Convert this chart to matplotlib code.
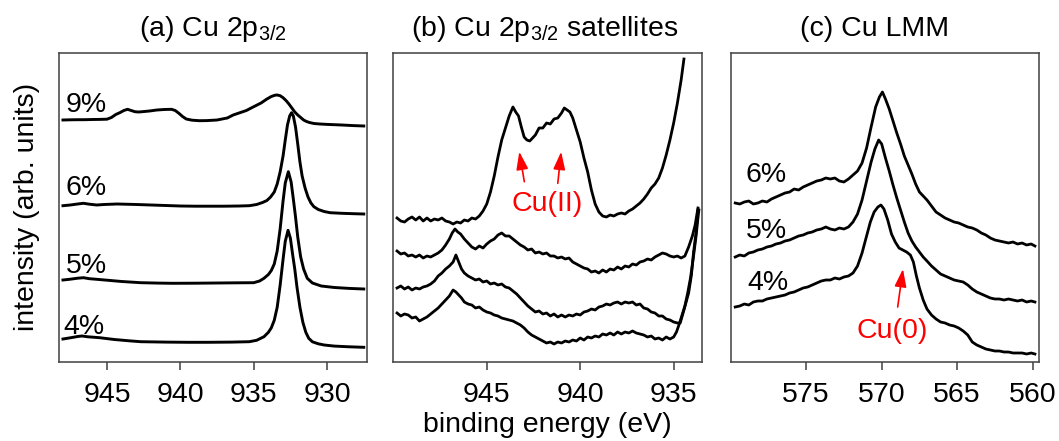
import numpy as np
import matplotlib
matplotlib.use('Agg')
import matplotlib.pyplot as plt

plt.rcParams['font.family'] = 'Liberation Sans'
plt.rcParams['mathtext.fontset'] = 'custom'
plt.rcParams['mathtext.rm'] = 'Liberation Sans'
plt.rcParams['mathtext.it'] = 'Liberation Sans:italic'
plt.rcParams['font.size'] = 20.5
plt.rcParams['axes.titlesize'] = 20.5

# ---------------- (a) Cu 2p3/2 : (binding energy eV, intensity) ----------------
a_9 = np.array([
    (948.0, 6.0), (947.5, 6.2), (947.0, 6.3), (946.5, 6.3), (946.0, 6.5), (945.5, 6.6),
    (945.0, 6.8), (944.7, 8.5), (944.4, 11.5), (944.1, 13.5), (943.85, 15.5), (943.6, 16.7),
    (943.35, 15.5), (943.1, 14.3), (942.85, 14.0), (942.6, 14.3), (942.1, 15.0), (941.6, 16.0),
    (941.1, 16.5), (940.6, 16.7), (940.35, 15.5), (940.1, 12.7), (939.85, 9.5), (939.6, 7.0),
    (939.2, 5.8), (938.7, 5.3), (938.2, 5.4), (937.5, 6.0), (936.8, 8.0), (936.4, 11.0),
    (935.5, 15.5), (935.0, 19.3), (934.5, 23.0), (934.1, 27.0), (933.8, 29.5), (933.55, 30.8),
    (933.4, 31.0), (933.2, 30.3), (933.0, 28.3), (932.8, 25.5), (932.6, 22.0), (932.4, 18.0),
    (932.2, 14.0), (932.0, 11.0), (931.8, 8.5), (931.6, 6.0), (931.4, 4.5), (931.2, 3.5),
    (930.9, 2.5), (930.5, 2.0), (930.0, 1.6), (929.0, 1.0), (928.2, 0.4), (927.5, 0.0)])

a_6 = np.array([
    (948.0, 8.3), (947.5, 9.0), (947.0, 10.0), (946.6, 10.7), (946.2, 9.8), (945.7, 9.0),
    (945.2, 9.5), (944.3, 10.0), (943.0, 9.5), (942.0, 9.0), (941.0, 8.5), (940.0, 8.0),
    (939.0, 7.8), (938.0, 7.8), (937.0, 7.8), (936.0, 8.0), (935.3, 8.3), (934.8, 9.5),
    (934.4, 11.5), (934.1, 13.5), (933.85, 17.0), (933.6, 22.0), (933.4, 30.0), (933.2, 42.0),
    (933.0, 58.0), (932.85, 74.0), (932.7, 89.0), (932.55, 98.0), (932.42, 101.3), (932.3, 98.0),
    (932.15, 87.0), (932.0, 70.0), (931.85, 52.0), (931.7, 38.0), (931.5, 26.0), (931.3, 17.0),
    (931.1, 11.0), (930.9, 7.3), (930.6, 4.5), (930.2, 2.5), (929.8, 1.3), (929.0, 0.7),
    (928.2, 0.3), (927.5, 0.0)])

a_5 = np.array([
    (948.0, 9.0), (947.5, 9.8), (947.0, 10.8), (946.6, 11.3), (946.2, 10.3), (945.7, 9.7),
    (945.0, 8.8), (944.0, 7.5), (942.7, 6.3), (941.5, 5.9), (940.5, 5.7), (939.0, 5.8),
    (937.5, 6.0), (936.0, 6.2), (935.0, 6.3), (934.6, 8.0), (934.3, 10.7), (934.0, 14.5),
    (933.8, 18.5), (933.6, 25.0), (933.4, 38.0), (933.2, 60.0), (933.0, 88.0), (932.85, 106.0),
    (932.64, 117.3), (932.45, 107.0), (932.3, 90.0), (932.15, 72.0), (932.0, 52.0), (931.8, 32.0),
    (931.6, 20.0), (931.35, 10.7), (931.0, 6.0), (930.4, 3.0), (929.5, 1.5), (928.5, 0.6),
    (927.5, 0.0)])

a_4 = np.array([
    (948.0, 8.3), (947.5, 9.5), (947.0, 10.8), (946.7, 11.3), (946.3, 10.5), (945.5, 9.6),
    (944.5, 7.8), (943.5, 6.5), (942.7, 5.6), (941.0, 5.2), (939.5, 5.0), (938.1, 5.0),
    (936.5, 5.2), (935.3, 5.6), (934.8, 7.0), (934.3, 10.6), (934.0, 15.0), (933.8, 19.5),
    (933.6, 27.0), (933.4, 40.0), (933.2, 62.0), (933.0, 88.0), (932.85, 106.0), (932.66, 117.0),
    (932.5, 109.0), (932.35, 93.0), (932.2, 78.0), (932.05, 60.0), (931.85, 40.0), (931.65, 25.0),
    (931.45, 15.0), (931.25, 9.0), (931.0, 5.5), (930.6, 3.5), (930.2, 2.3), (929.5, 1.2),
    (928.5, 0.5), (927.5, 0.0)])

# ---------------- (b) Cu 2p3/2 shake-up satellites ----------------
b_9 = np.array([
    (949.8, 2), (949.6, -1), (949.4, -2), (949.2, 1), (949.0, 3), (948.8, 0), (948.6, 3),
    (948.4, -1), (948.2, 2), (948.0, -1), (947.8, 1), (947.6, 0), (947.4, 2), (947.2, -1),
    (947.0, -2), (946.8, -4), (946.6, -2), (946.4, -3), (946.2, 0), (946.0, -1), (945.8, 2),
    (945.6, 1), (945.4, 4), (945.2, 9), (945.0, 16), (944.8, 28), (944.6, 44), (944.4, 63),
    (944.2, 80), (944.0, 92), (943.8, 104), (943.6, 113), (943.45, 108), (943.3, 104),
    (943.15, 93), (943.0, 83), (942.85, 80), (942.7, 79), (942.55, 82), (942.4, 85),
    (942.2, 92), (942.0, 92), (941.8, 97), (941.6, 96), (941.4, 101), (941.2, 102),
    (941.0, 107), (940.85, 112), (940.7, 110), (940.55, 108), (940.4, 102), (940.2, 90),
    (940.0, 78), (939.8, 62), (939.6, 48), (939.4, 30), (939.2, 16), (939.0, 8), (938.8, 4),
    (938.6, 3), (938.4, 5), (938.2, 4), (938.0, 6), (937.8, 7), (937.6, 6), (937.4, 9),
    (937.2, 11), (937.0, 14), (936.8, 17), (936.6, 21), (936.4, 26), (936.2, 32), (936.0, 36),
    (935.8, 42), (935.6, 52), (935.4, 65), (935.2, 80), (935.0, 97), (934.8, 117),
    (934.6, 140), (934.45, 161)])

b_6 = np.array([
    (949.8, 4), (949.6, 1), (949.4, 2), (949.2, -1), (949.0, 0), (948.8, -2), (948.6, 0),
    (948.4, -3), (948.2, -1), (948.0, -2), (947.8, 0), (947.6, 2), (947.4, 5), (947.2, 10),
    (947.0, 16), (946.85, 22), (946.7, 26), (946.55, 23), (946.4, 21), (946.2, 16), (946.0, 12),
    (945.8, 8), (945.6, 6), (945.4, 9), (945.2, 7), (945.0, 11), (944.8, 14), (944.6, 16),
    (944.4, 20), (944.2, 22), (944.0, 19), (943.8, 19), (943.6, 16), (943.4, 13), (943.2, 10),
    (943.0, 8), (942.8, 5), (942.6, 6), (942.4, 2), (942.2, 3), (942.0, 1), (941.8, 2),
    (941.6, -1), (941.4, -1), (941.2, -3), (941.0, -2), (940.8, -4), (940.6, -3), (940.4, -7),
    (940.2, -9), (940.0, -11), (939.8, -13), (939.6, -14), (939.4, -17), (939.2, -16),
    (939.0, -18), (938.8, -15), (938.6, -17), (938.4, -14), (938.2, -15), (938.0, -12),
    (937.8, -14), (937.6, -11), (937.4, -12), (937.2, -9), (937.0, -10), (936.8, -7),
    (936.6, -6), (936.4, -4), (936.2, -5), (936.0, -2), (935.8, 0), (935.6, 2), (935.4, 1),
    (935.2, -1), (935.0, -2), (934.8, -1), (934.6, -3), (934.4, -1), (934.2, 8), (934.0, 19),
    (933.85, 30), (933.7, 47)])

b_5 = np.array([
    (949.8, 2), (949.6, 4), (949.4, 1), (949.2, 3), (949.0, 0), (948.8, 2), (948.6, 1),
    (948.4, 3), (948.2, 4), (948.0, 6), (947.8, 9), (947.6, 14), (947.4, 17), (947.2, 21),
    (947.0, 24), (946.8, 28), (946.65, 35), (946.5, 28), (946.35, 21), (946.2, 17), (946.0, 14),
    (945.8, 12), (945.6, 10), (945.4, 11), (945.2, 8), (945.0, 9), (944.8, 6), (944.6, 7),
    (944.4, 5), (944.2, 6), (944.0, 3), (943.8, 2), (943.6, -1), (943.4, -4), (943.2, -8),
    (943.0, -12), (942.8, -16), (942.6, -19), (942.4, -22), (942.2, -21), (942.0, -24),
    (941.8, -23), (941.6, -26), (941.4, -24), (941.2, -27), (941.0, -25), (940.8, -27),
    (940.6, -25), (940.4, -26), (940.2, -24), (940.0, -25), (939.8, -22), (939.6, -21),
    (939.4, -19), (939.2, -20), (939.0, -17), (938.8, -16), (938.6, -14), (938.4, -15),
    (938.2, -13), (938.0, -12), (937.8, -14), (937.6, -12), (937.4, -13), (937.2, -12),
    (937.0, -15), (936.8, -14), (936.6, -18), (936.4, -19), (936.2, -22), (936.0, -23),
    (935.8, -26), (935.6, -26), (935.4, -29), (935.2, -30), (935.0, -32), (934.8, -33),
    (934.65, -33), (934.45, -20), (934.2, -3), (934.05, 15), (933.94, 37), (933.8, 58),
    (933.7, 80)])

b_4 = np.array([
    (949.8, 5), (949.6, 2), (949.4, 4), (949.2, 3), (949.0, 0), (948.8, 1), (948.6, -3),
    (948.4, -1), (948.2, 1), (948.0, 4), (947.8, 7), (947.6, 10), (947.4, 14), (947.2, 18),
    (947.0, 22), (946.8, 28), (946.65, 26), (946.5, 23), (946.35, 20), (946.2, 16), (946.0, 14),
    (945.8, 13), (945.6, 10), (945.4, 11), (945.2, 8), (945.0, 6), (944.8, 5), (944.6, 3),
    (944.4, 2), (944.2, 0), (944.0, -1), (943.8, -2), (943.6, -3), (943.4, -5), (943.2, -7),
    (943.0, -10), (942.8, -14), (942.6, -17), (942.4, -19), (942.2, -21), (942.0, -23),
    (941.8, -25), (941.6, -24), (941.4, -26), (941.2, -24), (941.0, -25), (940.8, -23),
    (940.6, -24), (940.4, -22), (940.2, -23), (940.0, -20), (939.8, -22), (939.6, -19),
    (939.4, -20), (939.2, -18), (939.0, -19), (938.8, -16), (938.6, -17), (938.4, -15),
    (938.2, -17), (938.0, -14), (937.8, -16), (937.6, -14), (937.4, -15), (937.2, -13),
    (937.0, -15), (936.8, -16), (936.6, -17), (936.4, -19), (936.2, -18), (936.0, -21),
    (935.8, -20), (935.6, -22), (935.4, -19), (935.2, -21), (935.0, -19), (934.85, -14),
    (934.7, -6), (934.55, 3), (934.4, 12), (934.25, 25), (934.1, 40), (933.95, 60),
    (933.8, 82), (933.7, 100), (933.65, 108)])

# ---------------- (c) Cu LMM Auger ----------------
c_6 = np.array([
    (579.7, 42), (579.4, 41), (579.1, 43), (578.8, 44), (578.5, 41), (578.2, 42), (577.9, 44),
    (577.6, 43), (577.3, 46), (577.0, 48), (576.7, 50), (576.4, 52), (576.1, 53), (575.8, 56),
    (575.5, 55), (575.2, 58), (574.9, 60), (574.6, 62), (574.3, 64), (574.0, 65), (573.7, 67),
    (573.4, 66), (573.1, 67), (572.8, 64), (572.5, 63), (572.2, 66), (571.9, 70), (571.6, 74),
    (571.3, 82), (571.0, 97), (570.7, 118), (570.4, 138), (570.15, 148), (569.95, 153),
    (569.75, 146), (569.5, 136), (569.25, 124), (569.0, 112), (568.75, 101), (568.5, 89),
    (568.25, 80), (568.0, 71), (567.75, 61), (567.5, 53), (567.25, 49), (567.0, 45),
    (566.7, 39), (566.4, 33), (566.1, 30), (565.8, 27), (565.5, 25), (565.2, 23), (564.9, 22),
    (564.6, 20), (564.3, 18), (564.0, 17), (563.7, 15), (563.4, 12), (563.1, 10), (562.8, 7),
    (562.5, 5), (562.2, 4), (561.9, 3), (561.6, 2), (561.3, 3), (561.0, 1), (560.7, 2),
    (560.4, 0), (560.1, 1), (559.85, -1)])

c_5 = np.array([
    (579.7, 45), (579.4, 47), (579.1, 46), (578.8, 49), (578.5, 50), (578.2, 52), (577.9, 53),
    (577.6, 55), (577.3, 56), (577.0, 58), (576.7, 59), (576.4, 61), (576.1, 62), (575.8, 64),
    (575.5, 66), (575.2, 67), (574.9, 69), (574.6, 70), (574.3, 72), (574.0, 73), (573.7, 75),
    (573.4, 73), (573.1, 72), (572.8, 74), (572.5, 73), (572.2, 75), (571.9, 80), (571.6, 88),
    (571.3, 102), (571.0, 121), (570.7, 140), (570.45, 153), (570.2, 162), (570.0, 158),
    (569.75, 144), (569.5, 131), (569.25, 117), (569.0, 104), (568.75, 92), (568.5, 80),
    (568.25, 69), (568.0, 61), (567.75, 55), (567.5, 50), (567.25, 45), (567.0, 41),
    (566.7, 36), (566.4, 32), (566.1, 28), (565.8, 26), (565.5, 24), (565.2, 22), (564.9, 21),
    (564.6, 20), (564.3, 17), (564.0, 13), (563.7, 10), (563.4, 8), (563.1, 6), (562.8, 4),
    (562.5, 3), (562.2, 3), (561.9, 2), (561.6, 3), (561.3, 2), (561.0, 1), (560.7, 2),
    (560.4, 0), (560.1, 1), (559.85, 0)])

c_4 = np.array([
    (579.7, 47), (579.4, 48), (579.1, 50), (578.8, 49), (578.5, 52), (578.2, 53), (577.9, 53),
    (577.6, 55), (577.3, 56), (577.0, 57), (576.7, 58), (576.4, 59), (576.1, 61), (575.8, 62),
    (575.5, 64), (575.2, 66), (574.9, 67), (574.6, 69), (574.3, 71), (574.0, 73), (573.7, 74),
    (573.4, 74), (573.1, 76), (572.8, 75), (572.5, 77), (572.2, 78), (571.9, 81), (571.6, 88),
    (571.3, 101), (571.0, 118), (570.75, 132), (570.5, 142), (570.25, 147), (570.05, 149),
    (569.85, 145), (569.6, 134), (569.35, 120), (569.1, 112), (568.85, 106), (568.6, 104),
    (568.35, 102), (568.1, 99), (567.9, 92), (567.7, 78), (567.5, 66), (567.25, 54),
    (567.0, 45), (566.7, 39), (566.4, 35), (566.1, 32), (565.8, 31), (565.5, 29), (565.2, 28),
    (564.9, 26), (564.6, 23), (564.3, 19), (564.0, 12), (563.7, 9), (563.4, 7), (563.1, 5),
    (562.8, 4), (562.5, 3), (562.2, 3), (561.9, 2), (561.6, 2), (561.3, 1), (561.0, 1),
    (560.7, 1), (560.4, 0), (560.1, 1), (559.85, 0)])

# vertical stacking offsets and sample labels
a_labels = ['9%', '6%', '5%', '4%']
a_offsets = [235.5, 147.5, 72.5, 14.2]
b_offsets = [141.5, 106.5, 71.5, 43.5]
c_labels = ['6%', '5%', '4%']
c_offsets = [116.5, 59.5, 7.5]

# label anchor points (energy, intensity)
a_label_pos = [(947.8, 249.8), (947.8, 166.5), (947.8, 88.2), (948.0, 27.5)]
c_label_pos = [(579.05, 179.8), (578.99, 123.2), (578.9, 71.5)]

YMAX = 308.5
W, H = 1059, 441
spine_col = '#404040'

fig = plt.figure(figsize=(W / 100, H / 100), dpi=100)


def make_axes(left_px, right_px):
    ax = fig.add_axes([left_px / W, (H - 361.5) / H, (right_px - left_px) / W, YMAX / H])
    for s in ax.spines.values():
        s.set_color(spine_col)
        s.set_linewidth(1.1)
    ax.set_yticks([])
    ax.set_ylim(0, YMAX)
    ax.tick_params(axis='x', direction='out', length=6, width=1.1, color=spine_col, pad=9)
    return ax


ax_a = make_axes(59, 366.7)
ax_b = make_axes(393.3, 701.7)
ax_c = make_axes(731, 1039.3)

# (a)
for spec, off in zip([a_9, a_6, a_5, a_4], a_offsets):
    ax_a.plot(spec[:, 0], spec[:, 1] + off, color='k', lw=2.1)
for lab, (x, y) in zip(a_labels, a_label_pos):
    ax_a.text(x, y, lab, ha='left', va='baseline')
ax_a.set_xlim(948.27, 927.3)
ax_a.set_xticks([945, 940, 935, 930])
ax_a.set_title(r'(a) Cu 2p$_{3/2}$', pad=12)
ax_a.set_ylabel('intensity (arb. units)', labelpad=14)

# (b)
for spec, off in zip([b_9, b_6, b_5, b_4], b_offsets):
    ax_b.plot(spec[:, 0], spec[:, 1] + off, color='k', lw=2.0)
ax_b.set_xlim(950.0, 933.5)
ax_b.set_xticks([945, 940, 935])
ax_b.set_title(r'(b) Cu 2p$_{3/2}$ satellites', pad=12, x=0.492)
ax_b.set_xlabel('binding energy (eV)', labelpad=3)

arrow_kw = dict(arrowstyle='-|>,head_length=0.6,head_width=0.2', color='red', lw=1.2,
                mutation_scale=18, shrinkA=0, shrinkB=0)
ax_b.annotate('', xy=(943.26, 209.8), xytext=(942.99, 179.8), arrowprops=arrow_kw)
ax_b.annotate('', xy=(941.02, 209.8), xytext=(941.20, 178.2), arrowprops=arrow_kw)
ax_b.text(941.75, 150.8, 'Cu(II)', color='red', ha='center', va='baseline')

# (c)
for spec, off in zip([c_6, c_5, c_4], c_offsets):
    ax_c.plot(spec[:, 0], spec[:, 1] + off, color='k', lw=2.0)
for lab, (x, y) in zip(c_labels, c_label_pos):
    ax_c.text(x, y, lab, ha='left', va='baseline')
ax_c.set_xlim(579.98, 559.56)
ax_c.set_xticks([575, 570, 565, 560])
ax_c.set_title('(c) Cu LMM', pad=12, x=0.467)
ax_c.annotate('', xy=(568.59, 92.5), xytext=(568.94, 54.5), arrowprops=arrow_kw)
ax_c.text(569.28, 23.2, 'Cu(0)', color='red', ha='center', va='baseline')

fig.savefig('out.png', dpi=100)
